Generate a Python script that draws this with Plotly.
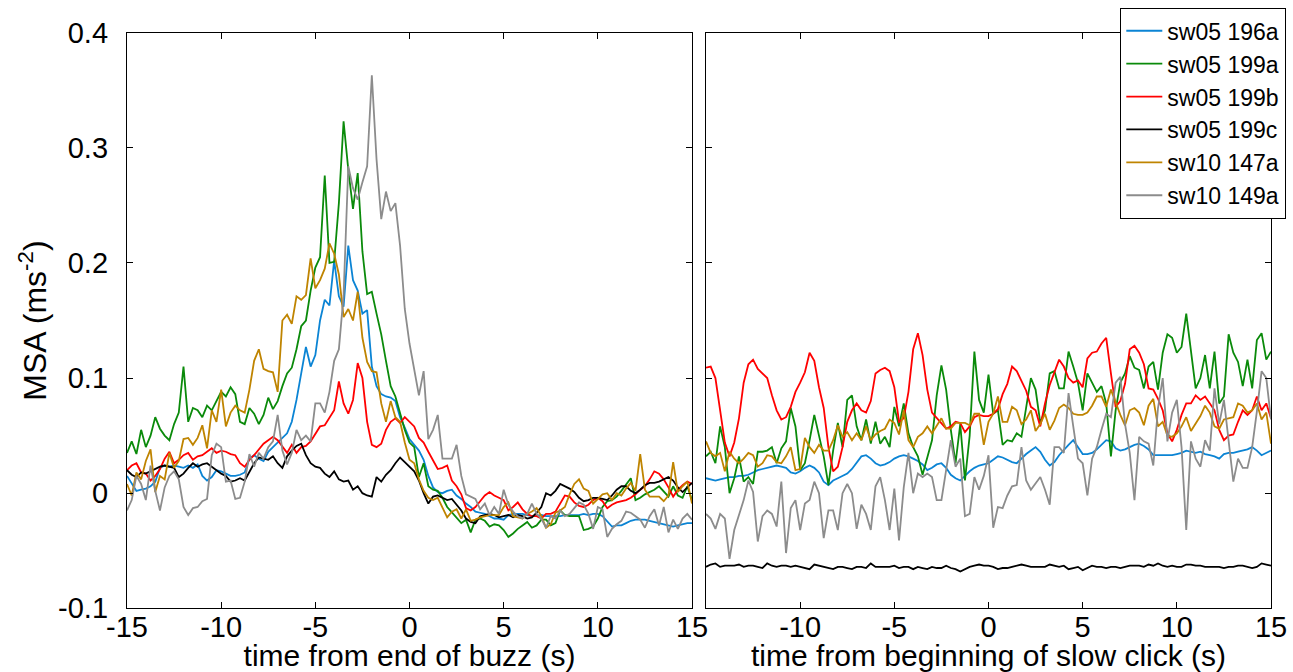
import numpy as np
import plotly.graph_objects as go

# ---------------- data ----------------
series_names = ["sw05 196a", "sw05 199a", "sw05 199b", "sw05 199c", "sw10 147a", "sw10 149a"]
series_colors = ["#0b84d4", "#0a8a0a", "#ff0000", "#000000", "#bf8400", "#8c8c8c"]

x_tick_vals_left = [-15, -10, -5, 0, 5, 10, 15]
x_tick_text_left = ["-15", "-10", "-5", "0", "5", "10", "15"]
x_tick_vals_right = [-10, -5, 0, 5, 10, 15]
x_tick_text_right = ["-10", "-5", "0", "5", "10", "15"]
y_tick_vals = [-0.1, 0, 0.1, 0.2, 0.3, 0.4]
y_tick_text = ["-0.1", "0", "0.1", "0.2", "0.3", "0.4"]

# MSA values in units of 1e-3 m s^-2, sampled every 0.25 s from -15 s to 15 s
# ---- left panel: time from end of buzz ----
left_196a = [15, 8, 2, 3, 4, 6, 10, 22, 24, 23, 24, 23, 22, 24, 22, 25, 15, 11, 14, 20,
             19, 17, 15, 15, 16, 18, 30, 33, 30, 28, 36, 40, 44, 48, 52, 62, 81, 104, 127, 110,
             120, 150, 168, 163, 202, 171, 162, 215, 185, 176, 156, 159, 110, 93, 86, 84, 83, 80, 66, 57,
             47, 42, 37, 29, 15, 5, 1, 0, 2, 3, -2, -5, -9, -12, -16, -17, -18, -20, -22, -22,
             -23, -19, -18, -18, -18, -19, -20, -20, -19, -20, -20, -20, -20, -19, -19, -19, -19, -18, -19, -18,
             -18, -20, -25, -29, -28, -28, -26, -24, -23, -23, -23, -24, -25, -26, -27, -28, -29, -28, -27, -26,
             -26]
left_199a = [35, 45, 34, 55, 40, 50, 66, 56, 50, 46, 60, 70, 110, 62, 74, 72, 66, 76, 72, 80,
             88, 84, 92, 86, 62, 60, 74, 69, 60, 68, 83, 73, 80, 93, 104, 109, 125, 145, 150, 176,
             196, 205, 276, 200, 201, 252, 323, 281, 247, 278, 210, 173, 175, 156, 138, 115, 93, 84, 69, 55,
             44, 40, 14, 26, 6, 3, 2, -4, -12, -17, -22, -26, -23, -34, -23, -22, -24, -29, -27, -28,
             -32, -38, -35, -31, -28, -25, -30, -28, -23, -23, -28, -26, -15, -19, -20, -20, -20, -32, -31, -29,
             -22, -12, -7, -6, -3, 2, 8, 13, -6, -4, -1, 1, 3, 6, 1, -3, 6, -2, -4, 6,
             -6]
left_199b = [20, 24, 26, 18, 17, 11, 15, 21, 30, 36, 26, 29, 33, 35, 29, 32, 33, 36, 39, 35,
             37, 36, 34, 33, 26, 23, 29, 33, 38, 43, 46, 49, 46, 40, 35, 42, 35, 40, 41, 45,
             52, 58, 59, 66, 72, 97, 78, 69, 81, 113, 100, 62, 42, 40, 43, 55, 62, 65, 61, 66,
             62, 58, 48, 44, 36, 28, 21, 22, 24, 11, 6, -1, -13, -15, -12, -7, -2, 1, -2, -4,
             -6, -15, -12, -8, -14, -18, -20, -20, -22, -18, -18, -16, -9, -2, -3, -8, -11, -12, -10, -6,
             -4, -7, -13, -10, -8, -7, -6, -4, -1, 3, 6, 12, 19, 17, 12, 5, -3, 3, 7, 10,
             8]
left_199c = [20, 16, 14, 18, 17, 19, 21, 23, 24, 23, 22, 14, 17, 22, 26, 23, 25, 26, 23, 20,
             17, 15, 10, 11, 13, 11, 19, 26, 31, 30, 29, 32, 26, 22, 32, 37, 41, 43, 33, 26,
             23, 22, 17, 14, 19, 12, 10, 11, 3, 6, 0, -2, -3, 14, 10, 16, 20, 26, 31, 27,
             23, 19, 11, 0, -9, -3, -2, -4, -6, -5, -10, -15, -22, -25, -26, -20, -19, -18, -19, -21,
             -20, -19, -21, -19, -20, -22, -21, -17, -12, 0, -2, 2, 8, 6, 4, 1, -4, -7, -6, -4,
             -4, -5, -6, -2, 3, 6, 6, 2, 0, 3, 7, 9, 9, 10, 12, 14, 11, 5, 1, 5,
             9]
left_147a = [8, -2, 18, 12, 28, 38, 1, 15, 12, 35, 22, 28, 47, 48, 42, 48, 59, 39, 72, 62,
             90, 58, 70, 76, 72, 70, 90, 115, 125, 108, 106, 105, 88, 150, 155, 147, 171, 168, 172, 204,
             178, 185, 195, 217, 208, 190, 153, 160, 150, 175, 135, 114, 106, 105, 78, 62, 80, 66, 62, 44,
             29, 26, 12, 2, -4, -6, -4, -12, -21, -16, -14, -22, -14, -24, -23, -21, -20, -19, -19, -19,
             -12, -8, -20, -21, -22, -18, -16, -13, -20, -30, -27, -17, -15, -12, -1, 8, 12, 4, 2, -9,
             -5, -1, 0, -6, 0, -2, 4, 9, 2, 34, 3, -3, -3, -3, -7, -2, 27, 1, 6, 10,
             -9]
left_149a = [-15, -6, 15, 8, -6, 24, 2, -15, 5, 15, 19, 12, -12, -19, -13, -12, -7, -5, 33, 43,
             40, 10, 11, -5, -4, 10, 34, 23, 35, 30, 40, 45, 68, 37, 25, 35, 55, 46, 50, 45,
             78, 78, 70, 88, 115, 125, 172, 284, 265, 255, 270, 284, 363, 290, 238, 262, 245, 252, 215, 160,
             130, 108, 85, 106, 47, 55, 68, 30, 30, 30, 42, 15, -1, -3, -5, -14, -9, -19, -12, -18,
             3, -10, -16, -20, -22, -18, -9, -18, -22, -30, -20, -22, -15, -20, -18, -13, -8, -10, -18, -31,
             -12, -14, -38, -31, -27, -24, -16, -17, -20, -23, -30, -20, -14, -28, -12, -34, -23, -31, -22, -18,
             -23]

# ---- right panel: time from beginning of slow click ----
right_196a = [13, 12, 11, 12, 13, 14, 14, 15, 15, 16, 18, 20, 21, 22, 23, 24, 23, 22, 18, 17,
              19, 22, 24, 22, 18, 10, 7, 11, 13, 15, 17, 21, 27, 32, 33, 30, 26, 24, 25, 27,
              30, 32, 33, 32, 30, 28, 25, 20, 22, 25, 26, 22, 16, 13, 11, 15, 19, 22, 24, 25,
              26, 29, 32, 31, 29, 27, 26, 30, 34, 37, 40, 36, 29, 24, 27, 33, 38, 42, 46, 40,
              34, 34, 35, 38, 42, 46, 45, 39, 37, 38, 40, 42, 43, 41, 38, 33, 33, 33, 33, 33,
              34, 35, 37, 36, 35, 36, 34, 33, 32, 30, 34, 35, 35, 36, 37, 38, 40, 37, 33, 35,
              37]
right_199a = [32, 36, 26, 58, 40, 0, 13, 32, 10, 14, 8, 36, 36, 37, 40, 26, 39, 45, 74, 58,
              20, 26, 46, 68, 50, 32, 7, 37, 61, 40, 81, 85, 58, 46, 64, 43, 62, 43, 49, 40,
              75, 58, 78, 52, 40, 32, 16, 32, 46, 85, 111, 90, 55, 26, 60, 11, 50, 123, 81, 70,
              103, 69, 72, 42, 46, 45, 52, 49, 75, 100, 90, 61, 72, 104, 106, 91, 91, 123, 110, 96,
              72, 104, 96, 88, 93, 78, 32, 72, 96, 104, 119, 109, 107, 91, 110, 114, 90, 122, 138, 135,
              122, 127, 156, 122, 91, 100, 120, 91, 123, 78, 84, 138, 122, 114, 93, 116, 91, 133, 139, 116,
              123]
right_199b = [109, 110, 100, 70, 44, 32, 44, 65, 96, 112, 116, 108, 104, 100, 85, 72, 64, 66, 75, 88,
              96, 105, 122, 115, 92, 74, 40, 19, 23, 40, 62, 72, 78, 72, 70, 80, 104, 107, 109, 106,
              92, 62, 65, 88, 125, 139, 120, 90, 70, 65, 60, 56, 58, 62, 61, 53, 58, 66, 68, 67,
              67, 69, 73, 86, 95, 110, 106, 97, 89, 75, 72, 58, 78, 94, 106, 116, 110, 100, 96, 98,
              92, 117, 122, 123, 130, 135, 104, 75, 80, 95, 125, 128, 122, 112, 91, 90, 82, 72, 52, 45,
              55, 68, 78, 78, 85, 81, 84, 78, 72, 55, 46, 50, 51, 62, 72, 68, 72, 84, 72, 78,
              65]
right_199c = [-64, -62, -61, -64, -63, -63, -63, -62, -64, -63, -63, -64, -65, -61, -63, -64, -63, -63, -64, -63,
              -64, -65, -66, -62, -63, -64, -65, -66, -64, -64, -65, -66, -64, -64, -65, -61, -64, -64, -64, -64,
              -63, -65, -64, -64, -66, -64, -65, -66, -64, -65, -65, -63, -65, -66, -68, -66, -64, -63, -62, -63,
              -63, -64, -66, -65, -65, -64, -63, -62, -63, -64, -64, -64, -64, -62, -63, -64, -63, -66, -65, -64,
              -67, -65, -63, -64, -64, -65, -64, -64, -65, -64, -63, -63, -63, -64, -62, -63, -61, -63, -64, -63,
              -64, -64, -62, -62, -63, -63, -64, -64, -64, -64, -65, -64, -64, -63, -63, -64, -65, -64, -61, -62,
              -63]
right_147a = [45, 35, 32, 35, 19, 36, 30, 26, 30, 35, 33, 23, 26, 33, 32, 27, 26, 32, 40, 20,
              21, 48, 40, 35, 42, 37, 37, 46, 59, 49, 53, 46, 52, 46, 58, 46, 51, 54, 56, 64,
              61, 51, 72, 46, 40, 49, 52, 58, 52, 59, 65, 56, 56, 61, 61, 61, 59, 69, 69, 42,
              62, 69, 84, 62, 62, 75, 72, 60, 64, 72, 54, 60, 69, 55, 63, 74, 77, 74, 69, 68,
              68, 70, 76, 84, 84, 75, 90, 78, 68, 59, 72, 74, 70, 59, 76, 82, 58, 62, 50, 49,
              52, 58, 66, 54, 61, 67, 76, 70, 58, 56, 64, 65, 66, 78, 76, 70, 72, 78, 64, 70,
              43]
right_149a = [-18, -22, -31, -18, -22, -57, -32, -20, -6, 11, 1, -42, -20, -15, -18, -29, 10, -52, -13, -6,
              -32, -9, -6, 10, 0, -39, -15, -15, -32, 0, 8, 0, -31, -10, -18, -32, 6, 14, -6, -32,
              4, -41, 5, 35, 0, 17, 14, 17, 14, -6, -6, 20, 46, 23, 30, -20, -18, 14, 3, 15,
              33, -30, -12, -13, -2, 6, 7, 40, 11, 3, 8, 14, 3, -10, 40, 40, 35, 87, 58, 30,
              26, -2, 30, 40, 55, 69, 66, 96, 101, 60, 35, -6, 49, 45, 43, 24, 74, 100, 45, 70,
              81, 40, -32, 45, 30, 23, 46, 37, 91, 60, 81, 46, 10, 30, 22, 22, 40, 71, 106, 100,
              64]

left_series = [left_196a, left_199a, left_199b, left_199c, left_147a, left_149a]
right_series = [right_196a, right_199a, right_199b, right_199c, right_147a, right_149a]

# ---------------- figure ----------------
W, H = 1293, 672
FONT = "Arial, Liberation Sans, Helvetica, sans-serif"

fig = go.Figure()
for name, col, vals in zip(series_names, series_colors, left_series):
    t = np.linspace(-15, 15, len(vals))
    fig.add_trace(go.Scatter(x=t, y=np.array(vals) / 1000.0, mode="lines", name=name,
                             line=dict(color=col, width=1.8), xaxis="x", yaxis="y"))
for name, col, vals in zip(series_names, series_colors, right_series):
    t = np.linspace(-15, 15, len(vals))
    fig.add_trace(go.Scatter(x=t, y=np.array(vals) / 1000.0, mode="lines", name=name,
                             line=dict(color=col, width=1.8), xaxis="x2", yaxis="y2",
                             showlegend=False))

ydom = [1 - 608.3 / H, 1 - 32.7 / H]
axis_common = dict(showline=True, linecolor="black", linewidth=1.3, mirror="ticks",
                   ticks="inside", ticklen=6, tickwidth=1, tickcolor="black",
                   showgrid=False, zeroline=False, automargin=False,
                   tickfont=dict(size=29, color="black", family=FONT))

fig.update_layout(
    width=W, height=H,
    margin=dict(l=0, r=0, t=0, b=0, autoexpand=False),
    paper_bgcolor="white", plot_bgcolor="white",
    font=dict(family=FONT, color="black"),
    xaxis=dict(domain=[127 / W, 692 / W], anchor="y", range=[-15, 15],
               tickvals=x_tick_vals_left, ticktext=x_tick_text_left, ticklabelstandoff=-7,
               title=dict(text="time from end of buzz (s)", font=dict(size=30), standoff=16),
               **axis_common),
    yaxis=dict(domain=ydom, anchor="x", range=[-0.1, 0.4],
               tickvals=y_tick_vals, ticktext=y_tick_text, ticklabelstandoff=12,
               title=dict(text="MSA (ms<sup>-2</sup>)", font=dict(size=32), standoff=1),
               **axis_common),
    xaxis2=dict(domain=[706 / W, 1271 / W], anchor="y2", range=[-15, 15],
                tickvals=x_tick_vals_right, ticktext=x_tick_text_right, ticklabelstandoff=-7,
                title=dict(text="time from beginning of slow click (s)", font=dict(size=30), standoff=16),
                **axis_common),
    yaxis2=dict(domain=ydom, anchor="x2", range=[-0.1, 0.4],
                tickvals=y_tick_vals, showticklabels=False,
                **axis_common),
    legend=dict(x=1120 / W, y=1 - 8 / H, xanchor="left", yanchor="top",
                bgcolor="white", bordercolor="black", borderwidth=1.3,
                font=dict(size=23, color="black", family=FONT),
                tracegroupgap=0, itemwidth=36),
    showlegend=True,
)

fig.write_html("out.html")
